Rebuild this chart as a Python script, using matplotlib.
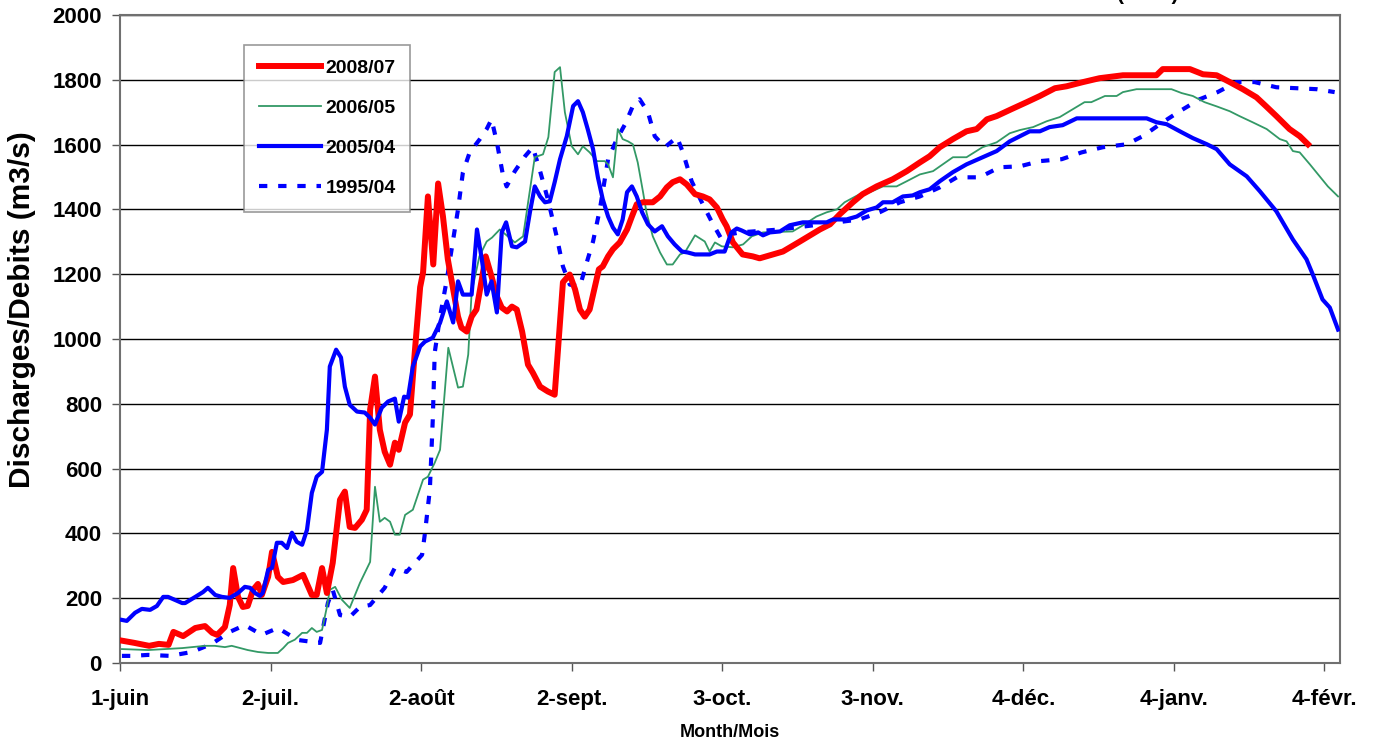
import numpy as np
import matplotlib
matplotlib.use("Agg")
from matplotlib import pyplot as plt

# days counted from 1 June
red_days = [0, 3, 6, 8, 10, 11, 13, 15.5, 17.5, 19, 20, 21.6, 22.6, 23.3, 24.3, 25.3, 26.3, 27.4, 28.4, 29.2,
            30.5, 31.3, 32.5, 33.6, 35.6, 37.7, 39.5, 40.5, 41.6, 42.6, 43.8, 45.3, 46.3, 47.3, 48.4, 49.8,
            50.8, 51.5, 52.5, 53.5, 54.5, 55.6, 56.6, 57.4, 58.7, 59.7, 60.7, 61.8, 62.4, 63.4, 64.5, 65.5,
            66.5, 67.5, 68.6, 69.6, 70.3, 71.4, 72.4, 73.4, 74.5, 75.3, 76.5, 77.6, 78.6, 79.7, 80.7, 81.7,
            82.8, 84, 85, 86.5, 88.1, 89.5, 91.2, 92.6, 93.7, 94.7, 95.7, 96.7, 97.8, 98.6, 99.4, 100.5,
            101.5, 102.9, 104.4, 105.4, 106.4, 107.7, 109.7, 111.2, 112.6, 113.8, 115.3, 116.7, 118.4, 120,
            121.4, 122.9, 124.1, 124.9, 126.2, 128.2, 130.3, 131.7, 134.4, 136.5, 140, 144.1, 146.2, 148.2,
            150.9, 152.9, 155.8, 159.1, 162, 164.7, 166.7, 168.8, 171.5, 174.3, 176.4, 178.5, 180.5, 183.5,
            186.7, 189.4, 192.5, 194.9, 198.3, 201.7, 206.5, 213.4, 214.7, 220.3, 223, 225.8, 228.5, 231.2,
            234, 236, 238.1, 240.8, 242.9, 244.6]
red_vals = [70, 62, 53, 59, 56, 96, 83, 108, 114, 93, 87, 111, 179, 293, 204, 173, 176, 226, 244, 210,
            266, 343, 266, 250, 256, 272, 210, 210, 293, 216, 309, 504, 529, 420, 417, 442,
            473, 782, 884, 720, 652, 612, 680, 658, 742, 767, 960, 1160, 1205, 1440, 1230, 1480,
            1378, 1246, 1153, 1069, 1035, 1023, 1069, 1091, 1184, 1255, 1193, 1131, 1097, 1085, 1100, 1091,
            1023, 921, 896, 853, 838, 828, 1175, 1199, 1153, 1091, 1069, 1091, 1162, 1215, 1224, 1255,
            1277, 1298, 1338, 1378, 1416, 1422, 1422, 1440, 1468, 1484, 1493, 1477, 1447, 1440,
            1431, 1406, 1369, 1348, 1298, 1261, 1255, 1249, 1261, 1270, 1301, 1338, 1354, 1385,
            1422, 1447, 1471, 1493, 1518, 1545, 1564, 1592, 1617, 1641, 1648, 1678, 1688, 1709,
            1731, 1750, 1774, 1780, 1793, 1805, 1814, 1814, 1833, 1833, 1817, 1814, 1793, 1771,
            1746, 1718, 1688, 1648, 1626, 1601]

green_days = [0.4, 5.8, 12.8, 17.5, 19.5, 21.6, 23, 26.3, 28.4, 30.5, 32.5, 33.6, 34.6, 36, 37.5, 38.5, 39.5,
              40.5, 41.6, 42.6, 43.2, 44.3, 45.7, 47.3, 49.4, 51.5, 52.5, 53.5, 54.5, 55.6, 56.6, 57.6,
              58.7, 60.3, 62.4, 63.4, 64.8, 65.9, 67.6, 69.6, 70.6, 71.7, 72.4, 74, 75.5, 76.6, 78.2,
              81.3, 83, 85.4, 87.1, 88.2, 89.5, 90.6, 91.6, 93, 94.3, 95.3, 96.7, 98.2, 99.8, 100.5,
              101.5, 102.5, 103.5, 104.6, 105.6, 106.6, 107.7, 108.4, 109.7, 111.2, 112.6, 113.8, 115.3,
              116.3, 118.4, 120.4, 121.4, 122.5, 123.9, 126.2, 128.3, 130.1, 132.4, 138.5, 140.3, 143.4,
              145.5, 147.6, 149.2, 152.3, 154.4, 157.1, 159.9, 162, 164.7, 167.4, 171.5, 174.3, 177.6,
              180.5, 183.2, 185.3, 188, 190.8, 193.5, 198.6, 200, 202.8, 205.2, 206.5, 209.3, 216.5,
              218.6, 220.9, 223.3, 225.8, 228.5, 230.5, 233.2, 236.1, 238.8, 240.2, 241.5, 242.9, 245,
              247, 248.7, 250.8]
green_vals = [43, 40, 46, 53, 53, 49, 53, 40, 34, 31, 31, 46, 62, 72, 93, 93, 108,
              96, 102, 173, 226, 235, 195, 170, 247, 312, 544, 436, 448, 436, 396, 396,
              457, 473, 566, 575, 618, 658, 973, 850, 853, 952, 1144, 1255, 1301, 1313, 1338,
              1298, 1317, 1561, 1570, 1623, 1824, 1839, 1700, 1595, 1570, 1595, 1576, 1549, 1549, 1539,
              1499, 1648, 1617, 1610, 1601, 1545, 1453, 1391, 1317, 1267, 1230, 1230, 1261,
              1267, 1320, 1301, 1270, 1298, 1286, 1283, 1292, 1317, 1329, 1332, 1348, 1378,
              1391, 1400, 1422, 1447, 1453, 1471, 1471, 1487, 1508, 1518, 1561, 1561, 1592,
              1607, 1635, 1645, 1654, 1672, 1685, 1731, 1731, 1750, 1750, 1762, 1771, 1771,
              1759, 1750, 1731, 1718, 1703, 1688, 1669, 1648, 1617, 1610, 1580, 1576, 1539,
              1502, 1471, 1440]

blue_days = [0.4, 1.4, 3.1, 4.5, 6.2, 7.6, 8.9, 9.9, 12.8, 13.4, 15.5, 17.1, 18.1, 19.6, 21, 22.6, 24.3, 25.7,
             26.8, 27.8, 28.8, 29.4, 30.5, 31.3, 32.3, 33.3, 34.4, 35.4, 36.4, 37.5, 38.5, 39.5, 40.5, 41.6,
             42.6, 43.2, 44.5, 45.5, 46.3, 47.3, 48.8, 50.4, 51.5, 52.5, 53.9, 55.2, 56.6, 57.4, 58.5, 59.3,
             60.3, 61.8, 62.8, 64.4, 65.9, 67.3, 68.6, 69.6, 70.6, 72.4, 73.5, 74.5, 75.5, 76.5, 77.6, 78.6,
             79.5, 80.7, 81.7, 83.4, 84.4, 85.4, 86.5, 87.5, 88.5, 89.5, 90.6, 92, 93.3, 94.3, 95.3, 96.3,
             97.4, 98.4, 99.4, 100.5, 101.5, 102.5, 103.5, 104.4, 105.4, 106.4, 107.5, 108.7, 110.1, 111.6,
             112.8, 114.2, 115.7, 116.9, 118.4, 121.4, 122.9, 124.5, 125.9, 127, 128, 129.7, 131.4, 132.4,
             133.8, 135.9, 137.9, 140.6, 145.5, 146.8, 149.6, 151.7, 153.8, 155.8, 157.1, 159.1, 161.2,
             163.2, 164.7, 166.7, 168.8, 171.5, 174.3, 177.6, 180.5, 183.2, 185.3, 187.3, 189.4, 191.4,
             194.1, 197, 211.4, 213.4, 215.5, 218.6, 220.9, 223.8, 225.8, 228.5, 232, 234.7, 238.1, 241.5,
             244.3, 245.6, 247.6, 249.1, 250.8]
blue_vals = [133, 130, 155, 167, 164, 176, 204, 204, 185, 185, 204, 219, 232, 210, 204, 201, 216, 235,
             232, 216, 207, 216, 287, 294, 371, 371, 355, 402, 374, 365, 411, 525, 575, 590,
             720, 915, 967, 943, 853, 797, 776, 773, 757, 736, 788, 807, 816, 745, 822, 819,
             915, 977, 992, 1004, 1050, 1116, 1051, 1178, 1137, 1137, 1338, 1246, 1137, 1178, 1082, 1329,
             1360, 1286, 1283, 1301, 1391, 1471, 1440, 1422, 1425, 1484, 1555, 1626, 1719, 1734, 1700, 1648,
             1586, 1499, 1431, 1378, 1344, 1323, 1369, 1453, 1471, 1440, 1391, 1354, 1332, 1348,
             1317, 1292, 1270, 1267, 1261, 1261, 1270, 1270, 1329, 1341, 1335, 1323, 1329, 1320,
             1329, 1332, 1351, 1360, 1360, 1369, 1369, 1378, 1397, 1406, 1422, 1422, 1440,
             1443, 1453, 1462, 1487, 1515, 1539, 1561, 1580, 1610, 1626, 1641, 1641, 1654,
             1660, 1681, 1681, 1669, 1663, 1638, 1620, 1601, 1586, 1539, 1502, 1456, 1394, 1307,
             1246, 1199, 1122, 1097, 1029]

dash_days = [0.4, 2.5, 5.8, 10.3, 14.8, 18.9, 22.6, 25.7, 29.2, 32.5, 36.6, 41.2, 42.8, 43.8, 45.3, 47.3,
             49.4, 51.5, 54.5, 56.6, 59, 62.2, 62.8, 63.8, 64.4, 64.8, 65.9, 67.3, 68.6, 69.6, 70.6, 72,
             74.1, 75.5, 76.5, 77.6, 78.9, 79.6, 81.3, 83.4, 85, 86.5, 88.1, 89.9, 91.2, 92.6, 94.7, 96.1,
             97.4, 98.8, 100.5, 102.3, 104, 105.6, 107, 108.7, 110.1, 112.2, 114.7, 115.9, 117.7, 119.8,
             121.9, 123.9, 125.6, 127.6, 135.9, 147.6, 152.3, 156.4, 160.6, 164.7, 168.8, 172.3, 177,
             181.1, 185.3, 189.4, 193.9, 198, 202.4, 207.3, 210.6, 214.7, 218.2, 222.3, 226, 229.9, 233.6,
             238.1, 242.3, 246.4, 250.1]
dash_vals = [22, 22, 25, 22, 34, 59, 96, 117, 87, 108, 71, 62, 185, 226, 148, 142,
             173, 179, 232, 294, 281, 334, 402, 535, 751, 958, 1069, 1184, 1307, 1400, 1514, 1576,
             1617, 1648, 1678, 1607, 1502, 1471, 1518, 1564, 1592, 1518, 1431, 1317, 1224, 1168, 1162, 1236,
             1301, 1400, 1555, 1617, 1663, 1719, 1740, 1700, 1626, 1592, 1623, 1576, 1487, 1422,
             1360, 1307, 1323, 1329, 1338, 1360, 1369, 1391, 1422, 1440, 1468, 1499, 1499,
             1530, 1533, 1549, 1555, 1576, 1592, 1601, 1626, 1669, 1703, 1740, 1762, 1793, 1793,
             1777, 1774, 1771, 1762]

tick_days = [0, 31, 62, 93, 124, 155, 186, 217, 248]
tick_labels = ["1-juin", "2-juil.", "2-août", "2-sept.", "3-oct.", "3-nov.", "4-déc.", "4-janv.", "4-févr."]

plt.rcParams["font.family"] = ["Liberation Sans", "DejaVu Sans"]
plt.rcParams["font.weight"] = "bold"

fig = plt.figure(figsize=(13.8, 7.49), dpi=100)
ax = fig.add_axes([120 / 1380, 86 / 749, 1220 / 1380, 648 / 749])

ax.plot(red_days, red_vals, color="#FF0000", lw=4.3, label="2008/07", solid_joinstyle="round", zorder=4)
ax.plot(green_days, green_vals, color="#339966", lw=1.3, label="2006/05", zorder=3)
ax.plot(blue_days, blue_vals, color="#0000FF", lw=3.0, label="2005/04", zorder=5)
ax.plot(dash_days, dash_vals, color="#0000FF", lw=3.0, ls=(0, (2, 2.6)), dash_capstyle="butt",
        label="1995/04", zorder=2)

ax.set_xlim(0, 251.2)
ax.set_ylim(0, 2000)
ax.set_xticks(tick_days)
ax.set_xticklabels(tick_labels)
ax.set_yticks(np.arange(0, 2001, 200))
ax.tick_params(axis="both", direction="out", length=6, width=1, colors="#555555", labelcolor="black",
               labelsize=16, pad=7)
ax.tick_params(axis="x", pad=13)
ax.grid(axis="y", color="black", lw=1)
ax.set_axisbelow(True)
for sp in ax.spines.values():
    sp.set_color("#707070")
    sp.set_linewidth(1.5)

ax.set_xlabel("Month/Mois", fontsize=13, fontweight="bold", labelpad=10)
ax.set_ylabel("Discharges/Debits (m3/s)", fontsize=21.5, fontweight="bold")
ax.yaxis.set_label_coords(-0.069, 0.545)

leg = ax.legend(loc="upper left", bbox_to_anchor=(0.1016, 0.954), fontsize=14, frameon=True,
                fancybox=False, edgecolor="#808080", handlelength=3.2, handletextpad=0.25,
                labelspacing=1.15, borderpad=0.75, borderaxespad=0)
leg.get_frame().set_linewidth(1.2)
for t in leg.get_texts():
    t.set_fontweight("bold")

# title is cut off at the top of the picture
fig.text(1148 / 1380, 1.0, "(m3/s)", ha="center", va="baseline", fontsize=15, fontweight="bold")

fig.savefig("out.png", dpi=100)
